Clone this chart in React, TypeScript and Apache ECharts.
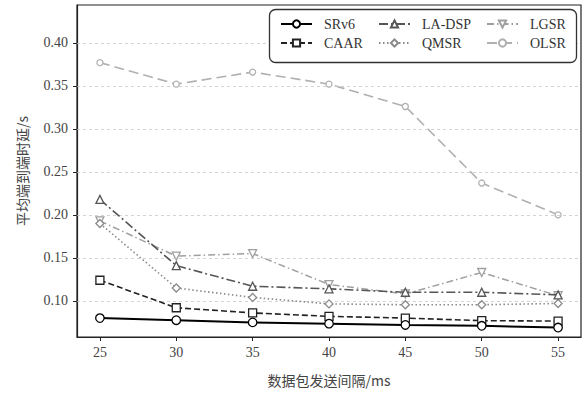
import React, { useEffect, useRef } from "react";
import * as echarts from "echarts";

const xValues = [25, 30, 35, 40, 45, 50, 55];
const yTicks = [0.1, 0.15, 0.2, 0.25, 0.3, 0.35, 0.4];
const srv6 = [0.080, 0.0775, 0.075, 0.0735, 0.072, 0.071, 0.069];
const caar = [0.124, 0.092, 0.086, 0.082, 0.080, 0.077, 0.0765];
const ladsp = [0.218, 0.141, 0.117, 0.114, 0.110, 0.110, 0.107];
const qmsr = [0.190, 0.115, 0.104, 0.0965, 0.0955, 0.0955, 0.097];
const lgsr = [0.193, 0.152, 0.155, 0.119, 0.108, 0.133, 0.106];
const olsr = [0.377, 0.352, 0.366, 0.352, 0.326, 0.237, 0.200];

const SERIF = "'Liberation Serif', 'Noto Sans CJK SC', serif";
const CJK = "'Noto Sans CJK SC', 'Liberation Serif', serif";
const INV_TRI = "path://M0,0 L10,0 L5,9 Z";

type S = {
  name: string;
  data: number[];
  color: string;
  dash: any;
  width: number;
  symbol: string;
  size: number;
  z: number;
};

const seriesDefs: S[] = [
  { name: "OLSR", data: olsr, color: "#b0b0b0", dash: [10, 5], width: 1.6, symbol: "circle", size: 6, z: 3 },
  { name: "LGSR", data: lgsr, color: "#a0a0a0", dash: [7, 3, 1.5, 3], width: 1.5, symbol: INV_TRI, size: 8, z: 4 },
  { name: "QMSR", data: qmsr, color: "#8a8a8a", dash: [1.5, 2.5], width: 1.6, symbol: "diamond", size: 8, z: 5 },
  { name: "LA-DSP", data: ladsp, color: "#555555", dash: [9, 3, 2, 3], width: 1.6, symbol: "triangle", size: 8, z: 6 },
  { name: "CAAR", data: caar, color: "#222222", dash: [6, 3], width: 1.6, symbol: "rect", size: 8, z: 7 },
  { name: "SRv6", data: srv6, color: "#000000", dash: "solid", width: 2, symbol: "circle", size: 8.5, z: 8 },
];

// legend cell placement: [name, left, top]
const legendCells: [string, number, number][] = [
  ["SRv6", 280, 17],
  ["CAAR", 280, 36],
  ["LA-DSP", 378, 17],
  ["QMSR", 378, 36],
  ["LGSR", 486, 17],
  ["OLSR", 486, 36],
];

export default function App() {
  const ref = useRef<HTMLDivElement>(null);
  useEffect(() => {
    document.body.style.margin = "0";
    if (!ref.current) return;
    const chart = echarts.init(ref.current, undefined, { renderer: "svg" });
    const series: any[] = [
      {
        type: "line",
        name: "grid",
        data: [],
        z: 1,
        silent: true,
        markLine: {
          silent: true,
          symbol: "none",
          label: { show: false },
          lineStyle: { type: [3, 3], color: "#c8c8c8", width: 0.8 },
          data: yTicks.map((v) => ({ yAxis: v })),
        },
      },
      ...seriesDefs.map((s) => ({
        type: "line",
        name: s.name,
        z: s.z,
        data: xValues.map((x, i) => [x, s.data[i]]),
        symbol: s.symbol,
        symbolSize: s.size,
        showAllSymbol: true,
        lineStyle: { color: s.color, width: s.width, type: s.dash },
        itemStyle: { color: "#ffffff", borderColor: s.color, borderWidth: 1.3 },
      })),
    ];
    const legends = legendCells.map(([name, left, top]) => ({
      left,
      top,
      padding: 0,
      orient: "horizontal",
      itemWidth: 31,
      itemHeight: 9,
      z: 10,
      data: [name],
      textStyle: { fontFamily: SERIF, fontSize: 14, color: "#333", padding: [0, 0, 0, 7] },
    }));
    chart.setOption({
      animation: false,
      backgroundColor: "#ffffff",
      grid: {
        left: 77,
        right: 3,
        top: 5,
        bottom: 57,
        show: true,
        borderColor: "#222",
        borderWidth: 1.2,
        backgroundColor: "transparent",
      },
      xAxis: {
        type: "value",
        min: 23.5,
        max: 56.5,
        name: "数据包发送间隔/ms",
        nameLocation: "middle",
        nameGap: 36,
        nameTextStyle: { fontFamily: CJK, fontSize: 14, color: "#444" },
        axisLine: { show: true, lineStyle: { color: "#222", width: 1.2 } },
        axisTick: { show: true, length: 4, lineStyle: { color: "#222" }, customValues: xValues },
        axisLabel: { fontFamily: SERIF, fontSize: 14, color: "#444", margin: 8, customValues: xValues },
        splitLine: { show: false },
      },
      yAxis: {
        type: "value",
        min: 0.058,
        max: 0.444,
        name: "平均端到端时延/s",
        nameLocation: "middle",
        nameGap: 48,
        nameTextStyle: { fontFamily: CJK, fontSize: 14, color: "#444" },
        axisLine: { show: true, lineStyle: { color: "#222", width: 1.2 } },
        axisTick: { show: true, length: 4, lineStyle: { color: "#222" }, customValues: yTicks },
        axisLabel: {
          fontFamily: SERIF,
          fontSize: 14,
          color: "#444",
          margin: 9,
          customValues: yTicks,
          formatter: (v: number) => v.toFixed(2),
        },
        splitLine: { show: false },
      },
      graphic: [
        {
          type: "rect",
          z: 9,
          shape: { x: 269.5, y: 9.5, width: 307, height: 53, r: 6 },
          style: { fill: "#ffffff", stroke: "#333", lineWidth: 1.3 },
        },
      ],
      legend: legends,
      series,
    });
    return () => chart.dispose();
  }, []);
  return <div ref={ref} style={{ width: 584, height: 394 }} />;
}
